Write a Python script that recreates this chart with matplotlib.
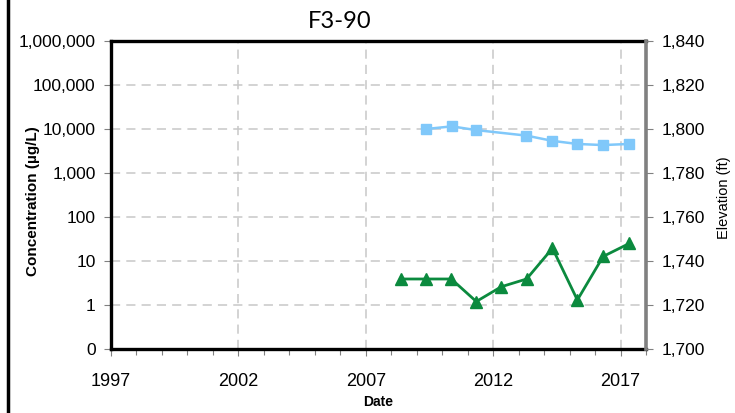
import datetime as dt
import matplotlib
matplotlib.use('Agg')
import matplotlib.pyplot as plt
import matplotlib.dates as mdates
from matplotlib import font_manager
from matplotlib.ticker import FixedLocator, FuncFormatter
from matplotlib.lines import Line2D

# concentracion (eje izquierdo, log)
fechas_conc = ['2008-05-20', '2009-05-18', '2010-05-12', '2011-05-05', '2012-04-27',
               '2013-04-25', '2014-05-01', '2015-04-23', '2016-04-27', '2017-05-05']
conc = [3.9, 3.9, 3.9, 1.2, 2.6, 3.9, 19.5, 1.3, 12.7, 25]

# elevacion (eje derecho)
fechas_elev = ['2009-05-15', '2010-05-18', '2011-05-05', '2013-04-23', '2014-05-01',
               '2015-04-23', '2016-04-25', '2017-05-01']
elev = [1800.0, 1801.2, 1799.5, 1797.0, 1794.6, 1793.2, 1792.7, 1793.2]

años_ticks = [1997, 2002, 2007, 2012, 2017]
conc_ticks = [0.1, 1, 10, 100, 1000, 10000, 100000, 1000000]
elev_ticks = [1700, 1720, 1740, 1760, 1780, 1800, 1820, 1840]

def a_fecha(lista):
    return [dt.datetime.strptime(f, '%Y-%m-%d') for f in lista]

plt.rcParams['font.family'] = ['Liberation Sans', 'DejaVu Sans']

# fuente angosta para los años si existe
try:
    font_manager.findfont('Liberation Sans Narrow', fallback_to_default=False)
    fuente_años, tam_años = 'Liberation Sans Narrow', 15
except ValueError:
    fuente_años, tam_años = 'Liberation Sans', 13

fig = plt.figure(figsize=(7.35, 4.13), dpi=100)
ax = fig.add_axes([111/735, 1-349/413, (646-111)/735, (349-41)/413])
ax2 = ax.twinx()

ax.set_yscale('log')
ax.set_ylim(0.1, 1e6)
ax.yaxis.set_major_locator(FixedLocator(conc_ticks))
ax.yaxis.set_minor_locator(FixedLocator([]))
ax.yaxis.set_major_formatter(FuncFormatter(lambda v, p: '{:,.0f}'.format(v)))

ax.set_xlim(dt.datetime(1997, 1, 1), dt.datetime(2018, 1, 1))
ax.xaxis.set_major_locator(FixedLocator([mdates.date2num(dt.datetime(a, 1, 1)) for a in años_ticks]))
ax.xaxis.set_major_formatter(FuncFormatter(lambda v, p: str(mdates.num2date(v).year)))
ax.xaxis.set_minor_locator(mdates.YearLocator(1))

ax.grid(True, which='major', color='#c8c8c8', linestyle=(0, (6, 4)), linewidth=1.1)
ax.set_axisbelow(True)

ax.plot(a_fecha(fechas_conc), conc, color='#0b8a3e', marker='^', markersize=8.5,
        linewidth=2, zorder=5, clip_on=False)

ax2.set_ylim(1700, 1840)
ax2.yaxis.set_major_locator(FixedLocator(elev_ticks))
ax2.yaxis.set_major_formatter(FuncFormatter(lambda v, p: '{:,.0f}'.format(v)))
ax2.plot(a_fecha(fechas_elev), elev, color='#80c8fa', marker='s', markersize=7,
         linewidth=1.8, zorder=5)

for lado in ['left', 'top', 'bottom']:
    ax.spines[lado].set_linewidth(2.4)
    ax.spines[lado].set_color('black')
ax.spines['right'].set_visible(False)
for lado in ['left', 'top', 'bottom']:
    ax2.spines[lado].set_visible(False)
ax2.spines['right'].set_color('#808080')
ax2.spines['right'].set_linewidth(2.6)

ax.tick_params(axis='y', which='major', direction='out', length=5, width=0.8,
               color='#808080', labelsize=12.5, pad=6)
ax.tick_params(axis='x', which='major', direction='out', length=5, width=0.8,
               color='#808080', labelsize=tam_años, pad=12)
ax.tick_params(axis='x', which='minor', direction='out', length=4, width=0.8, color='#808080')
for t in ax.get_xticklabels():
    t.set_family([fuente_años, 'DejaVu Sans'])
ax2.tick_params(axis='y', direction='out', length=5, width=0.8, color='#808080',
                labelsize=12.5, pad=6)

ax.set_ylabel('Concentration (µg/L)', fontsize=11, fontweight='bold')
ax.yaxis.set_label_coords(-0.133, 0.48)
ax2.set_ylabel('Elevation (ft)', fontsize=10.5)
ax2.yaxis.set_label_coords(1.133, 0.49)
ax.set_xlabel('Date', fontsize=10, fontweight='bold')
ax.xaxis.set_label_coords(0.5, -0.149)

fig.text(340/735, 1-22/413, 'F3-90', ha='center', va='center', fontsize=17,
         family=['Lato', 'DejaVu Sans'])

# borde izquierdo
fig.add_artist(Line2D([8/735, 8/735], [0, 1], color='black', linewidth=2.5,
                      transform=fig.transFigure))

fig.savefig('out.png', dpi=100)
